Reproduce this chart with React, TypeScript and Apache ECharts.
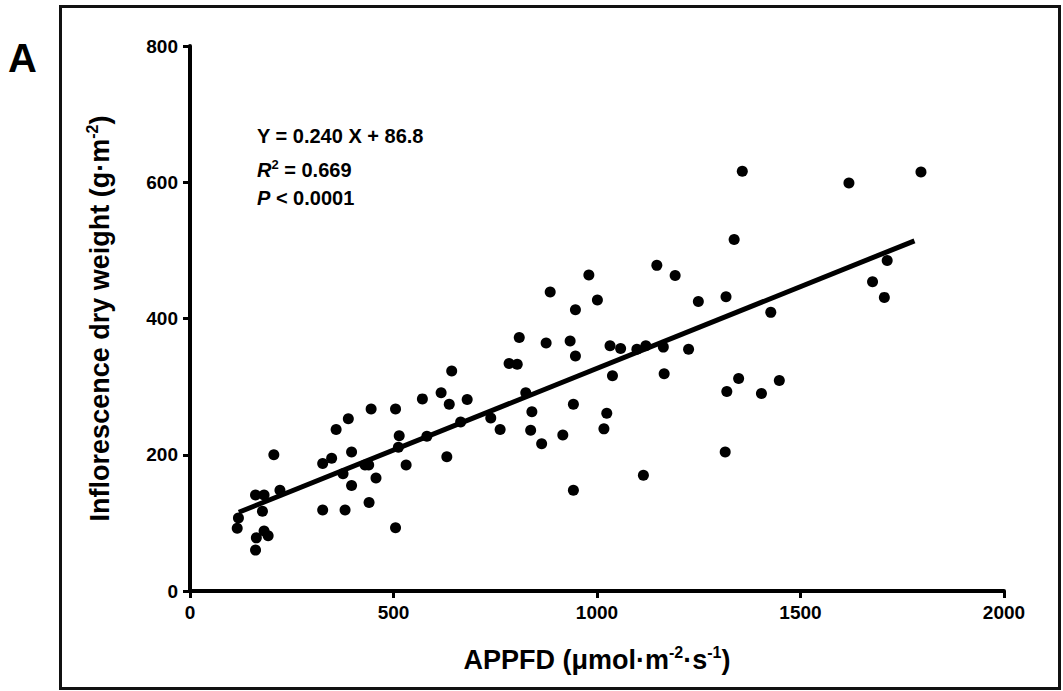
import React, { useEffect, useRef } from "react";
import * as echarts from "echarts";

// APPFD (x) and inflorescence dry weight (y)
const appfd = [
  116, 119, 161, 163, 182, 192, 178, 161, 182, 206, 221, 326, 381, 326, 348, 359,
  389, 376, 397, 397, 430, 439, 457, 440, 445, 505, 514, 512, 531, 505, 582, 571,
  617, 637, 631, 681, 665, 643, 739, 762, 784, 804, 809, 825, 840, 837, 864, 875,
  885, 916, 934, 947, 947, 942, 942, 980, 1001, 1032, 1058, 1038, 1024, 1017, 1098,
  1120, 1114, 1147, 1192, 1163, 1165, 1225, 1249, 1317, 1319, 1315, 1357, 1619, 1796,
  1337, 1427, 1348, 1404, 1448, 1713, 1677, 1706,
];
const dryWeight = [
  92, 107, 60, 78, 88, 81, 117, 141, 141, 200, 148, 119, 119, 187, 195, 237,
  253, 172, 204, 155, 185, 185, 166, 130, 267, 267, 228, 211, 185, 93, 227, 282,
  291, 274, 197, 281, 248, 323, 254, 237, 334, 333, 372, 291, 263, 236, 216, 364,
  439, 229, 367, 413, 345, 274, 148, 464, 427, 360, 356, 316, 261, 238, 355,
  360, 170, 478, 463, 358, 319, 355, 425, 432, 293, 204, 616, 599, 615,
  516, 409, 312, 290, 309, 485, 454, 431,
];
// Regression line end points (Y = 0.240 X + 86.8)
const fitLine = [
  [120, 115.6],
  [1780, 514],
];
const xTicks = { min: 0, max: 2000, step: 500 };
const yTicks = { min: 0, max: 800, step: 200 };
const statLines = ["Y = 0.240 X + 86.8", "{i|R}{s|2} = 0.669", "{i|P} < 0.0001"];

const FONT = "'Liberation Sans', Arial, sans-serif";

export default function App() {
  const ref = useRef<HTMLDivElement>(null);
  useEffect(() => {
    if (!ref.current) return;
    const chart = echarts.init(ref.current, null, { renderer: "svg" });
    const points = appfd.map((x, i) => [x, dryWeight[i]]);
    const axisCommon = {
      type: "value" as const,
      splitLine: { show: false },
      axisLine: { show: true, onZero: false, lineStyle: { color: "#000", width: 4 } },
      axisTick: { show: true, length: 7, lineStyle: { color: "#000", width: 3 } },
      axisLabel: {
        color: "#000",
        fontFamily: FONT,
        fontWeight: "bold" as const,
        fontSize: 19,
        margin: 12,
        formatter: (v: number) => String(v),
      },
      nameLocation: "middle" as const,
    };
    const nameRich = {
      s: { fontSize: 16, fontWeight: "bold", fontFamily: FONT, color: "#000", verticalAlign: "top", lineHeight: 16 },
    };
    const nameStyle = {
      color: "#000",
      fontFamily: FONT,
      fontWeight: "bold",
      fontSize: 27,
      lineHeight: 32,
      rich: nameRich,
    };
    chart.setOption({
      animation: false,
      backgroundColor: "#fff",
      grid: { left: 190, right: 59, top: 46, bottom: 100 },
      xAxis: {
        ...axisCommon,
        min: xTicks.min,
        max: xTicks.max,
        interval: xTicks.step,
        name: "APPFD (μmol·m{s|-2}·s{s|-1})",
        nameGap: 53,
        nameTextStyle: nameStyle,
      },
      yAxis: {
        ...axisCommon,
        min: yTicks.min,
        max: yTicks.max,
        interval: yTicks.step,
        name: "Inflorescence dry weight (g·m{s|-2})",
        nameGap: 74,
        nameTextStyle: nameStyle,
      },
      series: [
        {
          type: "line",
          data: fitLine,
          symbol: "none",
          lineStyle: { color: "#000", width: 5 },
          z: 2,
        },
        {
          type: "scatter",
          data: points,
          symbol: "circle",
          symbolSize: 11,
          itemStyle: { color: "#000", opacity: 1 },
          z: 3,
        },
      ],
      graphic: [
        {
          type: "rect",
          shape: { x: 60.5, y: 6.5, width: 999, height: 682 },
          style: { fill: "none", stroke: "#111", lineWidth: 3 },
          silent: true,
        },
        {
          type: "text",
          left: 8,
          top: 38,
          style: { text: "A", font: `bold 40px ${FONT}`, fill: "#000" },
        },
        ...statLines.map((t, i) => ({
          type: "text",
          x: 257,
          y: [136, 170, 198][i],
          style: {
            text: t,
            fill: "#000",
            fontFamily: FONT,
            fontWeight: "bold",
            fontSize: 20,
            lineHeight: 24,
            verticalAlign: "middle",
            rich: {
              i: { fontStyle: "italic", fontWeight: "bold", fontSize: 20, fontFamily: FONT, lineHeight: 24 },
              s: { fontSize: 13, fontWeight: "bold", fontFamily: FONT, verticalAlign: "top", lineHeight: 13 },
            },
          },
        })),
      ],
    });
    return () => chart.dispose();
  }, []);
  return (
    <div
      ref={ref}
      style={{ position: "fixed", left: 0, top: 0, width: 1063, height: 691, background: "#fff" }}
    />
  );
}
